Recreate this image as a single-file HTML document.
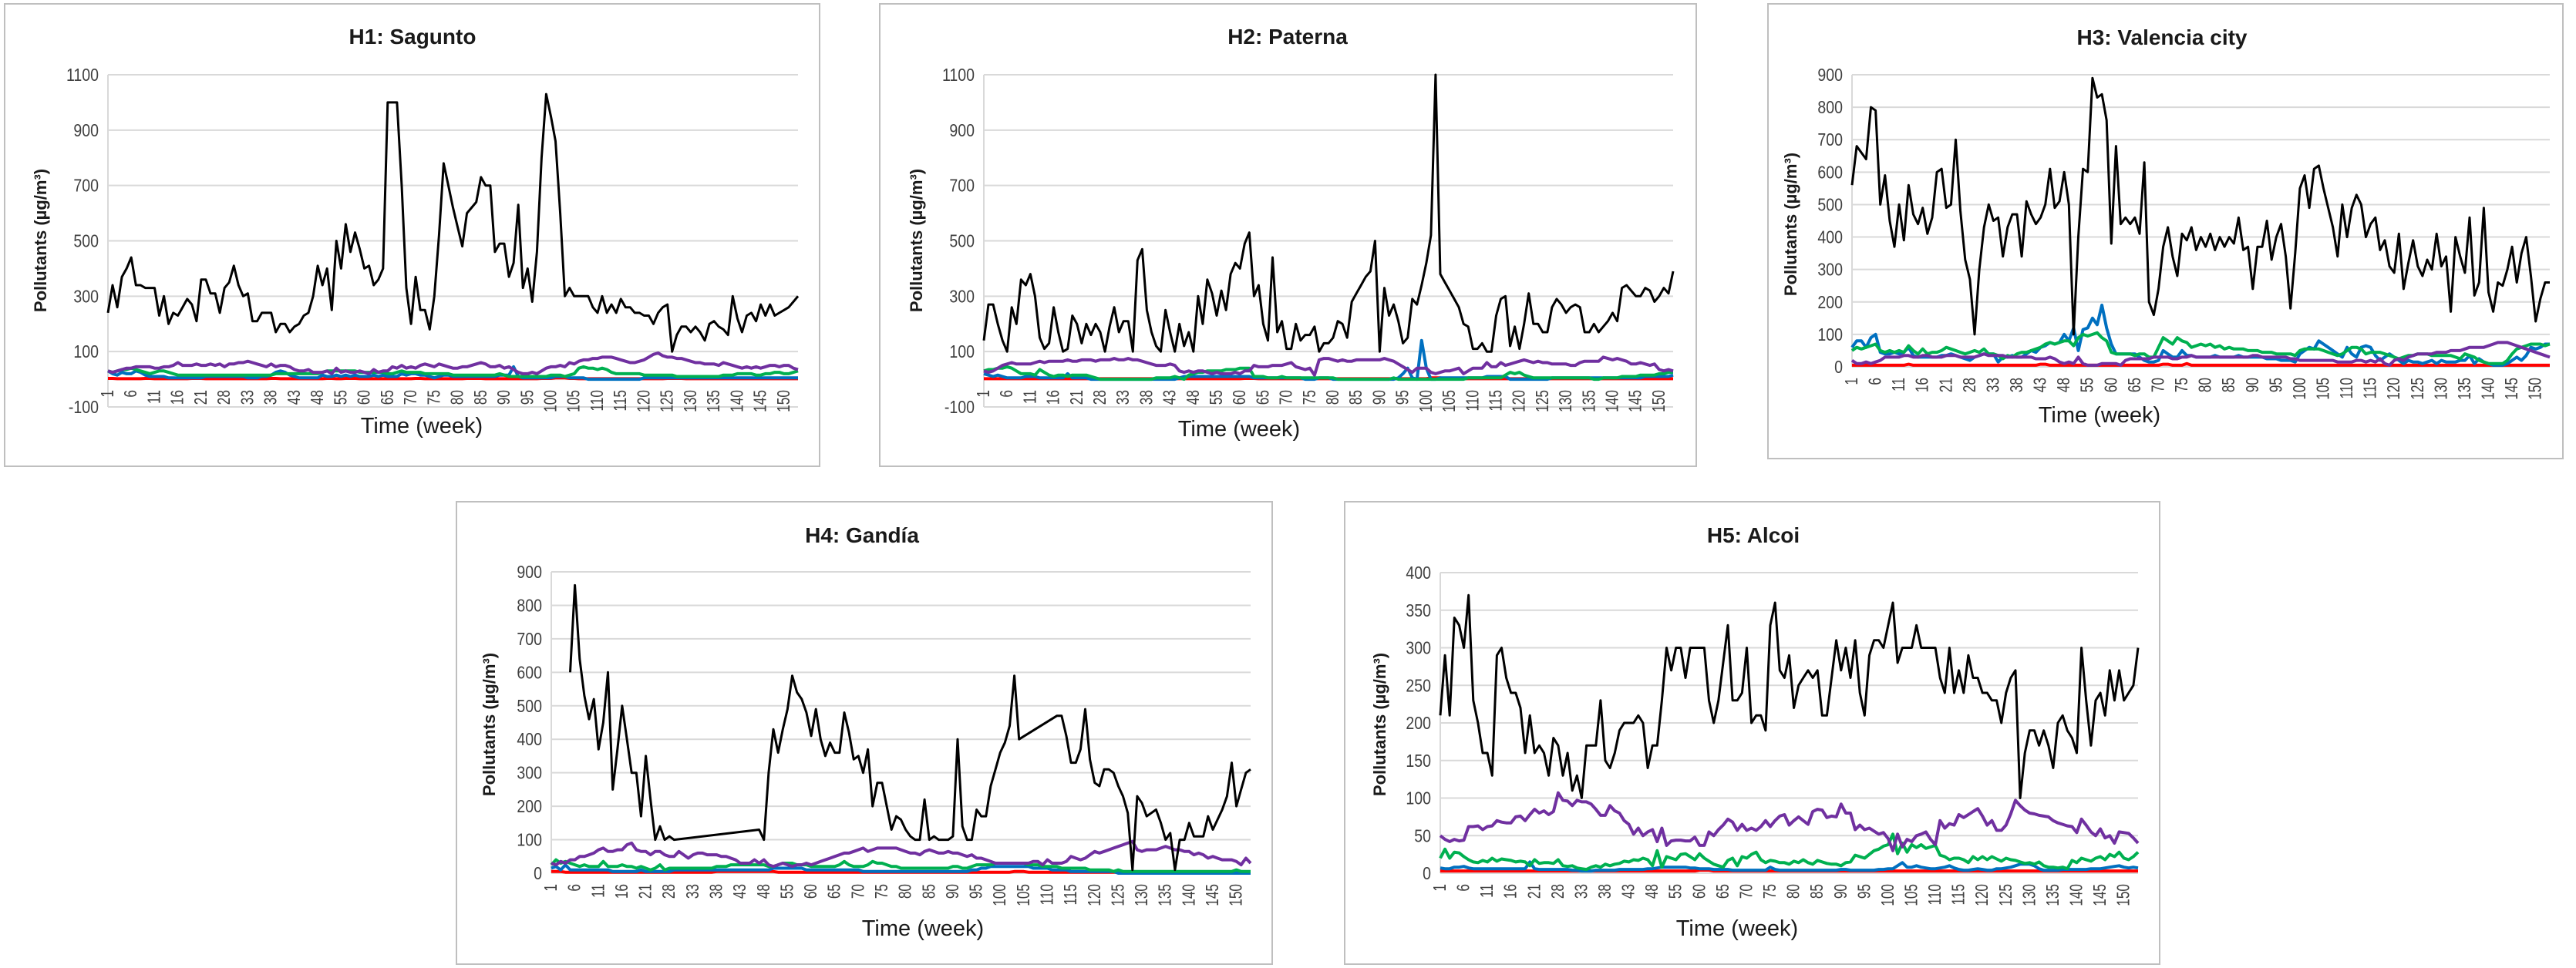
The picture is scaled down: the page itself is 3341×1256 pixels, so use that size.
<!DOCTYPE html>
<html><head><meta charset="utf-8">
<style>
html,body{margin:0;padding:0;background:#fff;}
svg{display:block;font-family:"Liberation Sans",sans-serif;}
</style></head>
<body>
<svg id="root" width="3341" height="1256" viewBox="0 0 3341 1256" xmlns="http://www.w3.org/2000/svg">
<rect x="0" y="0" width="3341" height="1256" fill="#fff"/>
</svg>
<script>
// ---- categories (week numbers) ----
const weeks = [1,2,3,4,5,6,7,8,9,10,11,12,13,14,15,16,17,18,19,20,21,24,25,26,27,28,29,30,31,32,33,34,35,36,37,38,39,40,41,42,43,44,45,46,47,48,51,52,53,54,55,56,57,58,59,60,61,62,63,64,65,66,67,68,69,70,71,72,73,74,75,76,77,78,79,80,81,82,83,84,85,86,87,88,89,90,91,92,93,94,95,96,97,98,99,100,101,102,103,104,105,106,107,108,109,110,111,112,113,114,115,116,117,118,119,120,121,122,123,124,125,126,127,128,129,130,131,132,133,134,135,136,137,138,139,140,141,142,143,144,145,146,147,148,149,150,151,152,153];
const labelEvery = 5;

// ---- H1 Sagunto ----
const h1Black = [240,340,260,370,400,440,340,340,330,330,330,230,300,200,240,230,260,290,270,210,360,360,310,310,240,330,350,410,340,300,310,210,210,240,240,240,170,200,200,170,190,200,230,240,300,410,340,400,250,500,400,560,460,530,470,400,410,340,360,400,1000,1000,1000,700,330,200,370,250,250,180,300,520,780,700,620,550,480,600,620,640,730,700,700,460,490,490,370,420,630,330,400,280,460,800,1030,950,860,600,300,330,300,300,300,300,260,240,300,240,270,240,290,260,260,240,240,230,230,200,240,260,270,100,160,190,190,170,190,170,140,200,210,190,180,160,300,220,170,230,240,210,270,230,270,230,240,250,260,280,300];
const h1Purple = [30,25,30,35,40,40,45,45,45,45,40,40,45,45,50,60,50,50,50,55,50,50,55,50,55,45,55,55,60,60,65,60,55,50,45,55,45,50,50,45,35,30,30,35,25,25,25,30,20,40,25,30,25,25,30,25,20,35,25,30,30,45,40,50,40,45,40,50,55,50,45,55,50,45,40,40,45,45,50,55,60,55,45,45,50,40,45,35,25,20,20,25,20,30,40,45,45,50,45,60,55,65,70,70,75,75,80,80,80,75,70,65,60,60,65,70,80,90,95,85,80,80,75,75,70,65,60,60,55,55,55,50,60,55,50,45,40,45,40,45,40,45,50,50,45,50,50,40,35];
const h1Green = [30,25,30,35,35,40,35,30,25,20,25,30,30,25,20,15,15,15,15,15,15,15,15,15,15,15,15,15,15,15,15,15,15,15,15,15,20,20,20,20,20,20,20,20,20,20,25,30,30,30,30,30,30,30,25,25,25,25,25,25,20,20,25,30,25,25,25,25,20,20,20,20,20,20,15,15,15,15,15,15,15,15,15,15,20,15,10,10,10,10,10,10,10,10,10,15,15,15,10,15,20,40,45,40,40,35,40,35,25,20,20,20,20,20,20,15,15,15,15,15,15,15,10,10,10,10,10,10,10,10,10,10,15,15,15,20,20,20,20,15,15,20,20,25,25,20,20,25,30];
const h1Blue = [30,20,15,25,20,20,30,25,15,10,10,10,10,5,5,5,5,5,5,5,5,10,10,10,10,10,10,10,10,10,5,5,5,10,10,15,25,30,25,15,10,5,5,5,5,5,15,10,10,15,10,15,10,15,10,10,10,15,10,15,10,10,10,20,15,20,20,15,15,10,5,10,15,15,10,10,10,10,10,10,10,10,10,10,15,15,15,45,10,5,5,5,5,5,5,5,10,10,10,5,5,5,5,0,0,0,0,0,0,0,0,0,0,0,0,5,5,5,5,5,5,5,5,5,5,5,5,5,5,5,5,5,5,5,5,5,5,5,5,5,5,5,5,5,5,5,5,5,5];
const h1Red = [3,3,2,2,2,2,2,2,3,3,2,2,2,2,2,2,2,2,3,3,3,2,2,2,2,2,2,2,2,2,2,2,2,2,2,3,3,2,2,2,2,2,2,2,2,2,2,3,3,2,2,3,3,3,2,2,2,2,2,2,2,2,2,2,2,2,3,3,2,2,2,2,2,2,2,2,2,3,3,3,3,2,2,2,2,2,2,2,2,2,2,2,2,3,3,3,5,5,5,3,3,2,2,2,2,2,2,2,2,2,2,2,2,2,2,2,2,2,2,2,3,3,3,3,2,2,2,2,2,2,2,2,2,2,2,2,2,2,2,2,2,2,2,2,2,2,2,2,2];

// ---- H2 Paterna ----
const h2Black = [140,270,270,200,140,100,260,200,360,340,380,300,150,110,130,260,170,100,110,230,200,130,200,160,200,170,100,190,260,170,210,210,100,430,470,250,170,120,100,250,170,100,200,120,170,100,300,200,360,310,230,320,250,380,420,400,490,530,300,340,200,140,440,170,210,110,110,200,140,160,160,190,100,130,130,150,210,200,150,280,310,340,370,390,500,100,330,230,270,210,130,150,290,270,340,420,520,1100,380,350,320,290,260,200,190,110,110,130,100,100,230,290,300,120,190,110,200,310,200,200,170,170,260,290,270,240,260,270,260,170,170,200,170,190,210,240,210,330,340,320,300,300,330,320,280,300,330,310,390];
const h2Purple = [30,25,30,40,50,55,60,55,55,55,55,60,65,60,65,65,65,65,70,65,65,70,70,70,65,70,70,70,75,70,70,75,70,70,65,60,55,50,50,50,55,50,30,25,30,25,30,30,25,20,25,20,20,20,25,20,30,30,50,45,45,45,50,50,50,55,60,45,40,35,40,15,70,75,75,70,65,70,65,65,70,70,70,70,70,70,75,70,65,55,45,35,25,40,40,40,25,20,25,30,30,35,40,20,30,40,40,40,60,45,45,60,50,55,60,65,70,65,60,65,60,60,55,55,55,55,50,50,60,65,65,65,65,80,75,70,75,70,65,55,55,60,55,50,55,35,30,35,30];
const h2Green = [30,35,35,40,40,45,40,30,20,20,20,15,35,25,15,10,15,15,10,15,15,15,15,10,5,0,0,0,0,0,0,0,0,0,0,0,0,5,5,5,5,10,5,0,15,20,25,25,30,30,30,30,35,35,35,40,40,40,10,10,10,5,5,5,10,5,5,5,5,5,5,5,5,5,5,5,0,0,0,0,0,0,0,0,0,0,0,0,5,0,0,0,0,0,0,0,0,0,0,0,0,0,0,0,5,5,5,5,5,5,5,5,15,25,20,25,15,10,5,5,5,5,5,5,5,5,5,5,5,5,5,0,0,5,5,5,5,10,10,10,10,15,15,15,15,20,20,25,25];
const h2Blue = [20,15,10,15,10,5,5,5,5,10,10,10,5,5,5,5,5,5,20,5,5,5,5,0,0,0,0,0,0,0,0,0,0,0,0,0,0,0,0,0,0,0,5,10,10,10,10,10,10,10,10,10,10,10,10,10,10,10,5,5,5,5,5,5,5,5,5,5,5,0,0,0,5,5,5,0,0,0,0,0,0,0,0,0,0,0,0,0,0,5,20,40,5,0,140,40,0,0,5,5,5,5,5,5,5,5,5,5,10,10,10,10,10,0,0,0,0,0,0,0,0,0,5,5,5,5,5,5,5,5,5,5,5,5,5,5,5,5,5,5,5,5,10,10,10,10,10,10,15];
const h2Red = [2,2,2,2,2,2,2,2,2,2,2,2,2,2,2,2,2,2,2,2,2,2,2,2,2,2,2,2,2,2,2,2,2,2,2,2,2,2,2,2,2,2,2,2,2,2,2,2,2,2,2,2,2,2,2,2,3,3,3,2,2,2,2,2,2,2,2,2,2,2,2,2,2,2,2,2,2,2,2,2,2,2,2,2,2,2,2,2,2,2,2,2,2,2,2,2,5,5,5,3,2,2,2,2,2,2,2,2,2,2,2,2,2,2,2,2,2,2,2,2,2,2,2,2,2,2,2,2,2,2,2,2,2,2,2,2,2,2,2,2,2,2,2,2,2,2,2,2,2];

// ---- H3 Valencia city ----
const h3Black = [560,680,660,640,800,790,500,590,450,370,500,390,560,470,440,490,410,460,600,610,490,500,700,480,330,270,100,300,430,500,450,460,340,430,470,470,340,510,470,440,460,500,610,490,510,600,500,100,400,610,600,890,830,840,760,380,680,440,460,440,460,410,630,200,160,240,370,430,340,280,410,390,430,360,400,370,410,360,400,370,400,380,460,360,370,240,370,370,450,330,400,440,340,180,350,550,590,490,610,620,550,490,430,340,500,400,490,530,500,400,440,460,360,390,310,290,410,240,320,390,310,280,330,300,410,310,340,170,400,340,290,460,220,260,490,230,170,260,250,300,370,260,350,400,280,140,210,260,260];
const h3Purple = [20,10,10,15,10,15,20,30,30,30,30,35,35,30,30,35,35,30,30,30,35,35,35,30,30,30,30,35,40,35,35,35,35,30,30,30,30,30,30,25,25,25,30,25,15,10,15,10,30,10,5,5,5,10,10,10,10,5,20,25,25,25,25,25,30,30,30,30,25,25,30,30,35,30,30,30,30,30,30,30,30,30,30,30,30,35,35,30,30,30,30,30,30,25,25,20,20,20,20,20,20,20,20,15,15,15,15,20,20,15,20,15,25,10,5,20,25,20,30,35,40,40,40,40,45,45,45,50,50,50,55,60,60,60,60,65,70,75,75,75,70,65,60,55,50,45,40,35,30];
const h3Green = [50,60,55,60,65,70,50,45,50,45,50,45,65,50,40,55,40,45,45,50,60,55,50,45,40,45,50,45,55,40,40,35,25,35,30,40,45,45,50,55,60,70,75,70,75,80,80,65,90,100,95,100,105,90,80,45,40,40,40,40,35,40,40,30,30,60,90,80,70,90,80,75,60,65,70,65,70,60,65,55,60,55,55,55,50,50,50,45,45,45,40,40,40,40,35,50,55,55,55,55,50,45,40,35,40,50,60,60,55,40,45,45,45,40,35,30,25,30,35,35,40,40,40,35,35,35,35,35,30,25,40,35,30,20,15,10,10,10,10,20,40,55,60,65,70,70,70,65,70];
const h3Blue = [60,80,80,60,90,100,45,40,40,45,40,45,60,35,30,30,30,30,30,35,35,40,35,30,25,20,30,35,40,40,40,15,30,30,35,30,30,40,50,45,60,65,75,70,75,100,80,120,50,115,120,150,130,190,120,70,40,40,40,40,40,30,20,15,15,20,50,40,30,30,50,35,35,30,30,30,30,35,30,30,30,30,35,30,30,30,30,30,25,25,25,20,20,20,15,40,50,60,55,80,70,60,50,40,30,60,40,30,60,65,60,35,20,30,40,30,20,10,20,15,15,10,15,20,10,20,15,15,15,20,20,35,10,25,15,10,5,5,5,10,20,30,20,35,60,55,60,70,70];
const h3Red = [5,5,5,5,5,5,5,5,5,5,5,5,8,5,5,5,5,5,5,5,5,5,5,5,5,5,5,5,5,5,5,5,5,5,5,5,5,5,5,5,8,8,5,5,5,5,5,5,5,5,5,5,5,5,5,5,5,5,5,5,5,5,5,5,5,5,8,8,5,5,5,10,5,5,5,5,5,5,5,5,5,5,5,5,5,5,5,5,5,5,5,5,5,5,5,5,5,5,5,5,5,5,5,5,5,5,5,5,5,5,5,5,5,5,5,5,5,5,5,5,5,5,5,5,5,5,5,5,5,5,5,5,5,5,5,5,5,5,5,5,5,5,5,5,5,5,5,5,5];

// ---- H4 Gandia (null = no measurement, line bridges gaps) ----
const h4Black = [null,null,null,null,600,860,640,530,460,520,370,450,600,250,370,500,400,300,300,170,350,220,100,140,100,110,100,null,null,null,null,null,null,null,null,null,null,null,null,null,null,null,null,null,130,100,300,430,360,430,490,590,540,520,480,410,490,400,350,390,360,360,480,420,340,350,300,370,200,270,270,200,130,170,160,130,110,100,100,220,100,110,100,100,100,110,400,140,100,100,190,170,170,260,310,360,390,440,590,400,null,null,null,null,null,null,null,470,470,410,330,330,370,490,340,270,260,310,310,300,260,230,180,10,230,210,170,180,190,150,100,120,10,100,100,150,110,110,110,170,130,160,190,230,330,200,250,300,310];
const h4Purple = [30,25,35,30,40,40,50,50,55,60,70,75,65,65,70,70,85,90,70,65,65,55,65,65,55,50,50,65,55,45,55,60,60,55,55,55,50,50,45,40,30,30,30,40,30,40,25,20,25,30,25,20,25,25,30,25,30,35,40,45,50,55,60,60,65,70,75,65,70,75,75,75,75,75,70,65,60,60,55,65,70,65,60,60,65,60,60,55,50,55,45,45,40,35,30,30,30,30,30,30,30,30,35,35,25,40,30,30,30,35,50,45,40,45,55,65,60,65,70,75,80,85,90,95,70,65,70,70,70,75,80,75,70,70,65,65,55,60,55,45,50,45,40,40,40,35,25,45,30];
const h4Green = [25,40,30,35,30,25,20,25,20,20,20,35,20,20,20,25,20,20,15,20,15,10,15,25,10,15,15,15,15,15,15,15,15,15,15,20,20,20,25,25,25,25,25,25,25,25,20,20,25,30,30,30,25,25,25,20,20,20,20,20,20,25,35,25,20,20,20,25,35,30,30,25,20,20,15,15,15,15,15,15,15,15,15,15,15,20,20,15,15,20,25,25,25,25,30,30,30,30,30,30,30,25,25,25,20,20,20,20,15,15,15,15,15,15,10,10,10,10,10,5,10,5,5,5,5,5,5,5,5,5,5,5,5,5,5,5,5,5,5,5,5,5,5,5,5,10,5,5,5];
const h4Blue = [15,20,10,25,10,10,10,10,10,10,10,10,10,5,5,5,5,5,5,10,5,5,5,5,5,5,10,10,10,10,10,10,10,10,10,10,10,10,10,10,10,10,10,10,10,10,10,15,15,15,15,15,15,15,10,10,10,10,10,10,10,10,10,10,10,10,5,5,5,5,5,5,5,5,5,5,5,5,5,5,5,5,5,5,5,5,5,5,5,10,10,15,15,20,20,20,20,20,20,20,20,20,15,15,15,15,10,10,10,10,5,5,5,5,5,5,5,5,5,5,0,0,0,0,0,0,0,0,0,0,0,0,0,0,0,0,0,0,0,0,0,0,0,0,0,0,0,0,0];
const h4Red = [5,5,5,3,3,3,3,3,3,3,3,3,3,3,3,3,3,3,3,3,3,3,3,3,3,3,3,3,3,3,3,3,3,3,3,5,5,5,5,5,5,5,5,5,5,5,5,5,3,3,3,3,3,3,3,3,3,3,3,3,3,3,3,3,3,3,3,3,3,3,3,3,3,3,3,3,3,3,3,3,3,3,3,3,3,3,3,3,3,3,3,3,3,3,3,3,3,3,5,5,5,3,3,3,3,3,3,3,3,3,3,3,3,3,3,3,3,3,3,3,3,3,3,3,3,3,3,3,3,3,3,3,3,3,3,3,3,3,3,3,3,3,3,3,3,3,3,0,0];

// ---- H5 Alcoi ----
const h5Black = [210,290,210,340,330,300,370,230,200,160,160,130,290,300,260,240,240,220,160,210,160,170,160,130,180,170,130,160,110,130,100,170,170,170,230,150,140,160,190,200,200,200,210,200,140,170,170,230,300,270,300,300,260,300,300,300,300,230,200,230,280,330,230,230,240,300,200,210,210,190,330,360,270,260,290,220,250,260,270,260,270,210,210,260,310,270,300,260,310,240,210,290,310,310,300,330,360,280,300,300,300,330,300,300,300,300,260,240,300,240,270,240,290,260,260,240,240,230,230,200,240,260,270,100,160,190,190,170,190,170,140,200,210,190,180,160,300,230,170,230,240,210,270,230,270,230,240,250,300];
const h5Purple = [50,45,42,45,43,44,62,62,63,58,62,63,70,68,67,67,75,76,70,78,85,80,83,78,82,107,97,96,90,97,95,95,92,85,77,77,90,83,80,70,65,52,60,50,55,58,42,60,37,43,44,44,43,43,48,37,37,55,50,58,64,72,68,57,65,57,60,57,62,70,62,70,76,78,64,70,75,70,65,82,85,84,74,76,75,92,80,80,58,64,58,60,56,52,54,46,30,52,35,45,42,50,52,55,45,38,70,60,66,64,78,74,78,82,86,76,64,70,57,57,64,79,97,90,84,80,79,77,76,75,70,67,65,63,62,54,72,64,55,50,59,47,50,40,55,54,53,47,40];
const h5Green = [20,32,20,28,27,22,18,15,14,17,15,20,16,19,18,17,15,16,15,10,18,13,14,14,13,18,10,9,10,7,6,5,8,10,8,12,10,12,13,16,15,18,17,20,18,10,30,8,22,20,18,25,26,22,18,26,20,16,12,10,8,17,20,10,22,20,25,28,18,14,17,16,14,14,12,16,14,18,14,12,17,15,13,12,12,10,14,15,24,22,20,25,30,32,36,38,52,26,40,28,38,34,38,33,35,37,24,22,18,20,20,18,14,22,18,22,18,22,19,16,20,18,17,15,13,14,12,15,10,8,8,7,8,6,17,14,20,18,16,20,22,18,25,22,28,20,18,22,28];
const h5Blue = [7,6,6,8,8,9,7,6,6,6,6,6,6,6,6,6,6,6,6,15,6,5,5,5,5,5,5,5,4,4,3,3,3,4,4,4,4,4,5,5,5,5,5,5,6,6,7,8,8,8,8,8,8,7,7,6,6,6,5,5,5,5,4,4,4,4,4,4,4,4,8,5,4,4,4,4,4,4,4,4,4,4,4,4,4,5,5,4,4,4,4,4,4,5,5,6,6,10,14,8,8,10,8,7,6,6,7,8,10,7,5,4,4,5,6,5,4,4,6,6,7,8,10,12,12,12,10,6,4,4,4,4,5,5,5,5,5,5,6,6,6,7,8,9,10,8,7,8,7];
const h5Red = [3,3,3,3,3,3,3,3,3,3,3,3,3,3,3,3,3,3,3,3,3,3,3,3,3,3,3,3,3,3,3,3,3,3,3,3,3,3,3,3,3,3,3,3,3,3,3,3,3,3,3,3,3,3,3,4,4,4,3,3,3,3,3,3,3,3,3,3,3,3,3,3,3,3,3,3,3,3,3,3,3,3,3,3,3,3,3,3,3,3,3,3,3,3,3,3,3,3,3,3,3,3,3,3,3,3,3,3,3,3,3,3,3,3,3,3,3,3,3,3,3,3,3,3,3,3,3,3,3,3,3,3,3,3,3,3,3,3,3,3,3,3,3,3,3,3,3,3,3];

// ---- y tick labels ----
const ticksH12 = [-100,100,300,500,700,900,1100];
const ticksH34 = [0,100,200,300,400,500,600,700,800,900];
const ticksH5 = [0,50,100,150,200,250,300,350,400];

const NS = "http://www.w3.org/2000/svg";
const root = document.getElementById('root');
function mk(tag, attrs, parent){
  const e = document.createElementNS(NS, tag);
  for (const k in attrs) e.setAttribute(k, attrs[k]);
  (parent||root).appendChild(e);
  return e;
}

function drawPanel(cfg){
  const g = mk('g', {});
  
  
  const b = cfg.box;
  const frame = mk('rect', {x:b[0], y:b[1], width:b[2]-b[0], height:b[3]-b[1], fill:'#fff', stroke:'#bfbfbf', 'stroke-width':2}, g);
  
  

  const ticks = cfg.ticks;
  const yMin = ticks[0], yMax = ticks[ticks.length-1];
  const ys = v => cfg.yBot - (v - yMin) / (yMax - yMin) * (cfg.yBot - cfg.yTop);
  const n = weeks.length;
  const xs = i => cfg.x0 + i * (cfg.x1 - cfg.x0) / (n - 1);

  ticks.forEach(t => {
    const gl = mk('line', {x1:cfg.x0, x2:cfg.x1, y1:ys(t), y2:ys(t), stroke:'#d9d9d9', 'stroke-width':2}, g);
    
    
    const tx = cfg.x0 - 12, ty = ys(t) + 8;
    const tl = mk('text', {x:0, y:0, transform:'translate('+tx+' '+ty+') scale(0.85 1)', 'text-anchor':'end', 'font-size':23, fill:'#404040'}, g);
    tl.textContent = String(t);
    
    
  });
  const ax = mk('line', {x1:cfg.x0, x2:cfg.x0, y1:cfg.yTop, y2:cfg.yBot, stroke:'#d9d9d9', 'stroke-width':2}, g);
  
  
  const y0 = ys(0);
  const xa = mk('line', {x1:cfg.x0, x2:cfg.x1, y1:y0, y2:y0, stroke:'#d9d9d9', 'stroke-width':2}, g);
  
  

  for (let i = 0; i < n; i += labelEvery){
    const x = xs(i) + 7, y = y0 + 14;
    const tl = mk('text', {x:0, y:0, transform:'translate('+x+' '+y+') rotate(-90) scale(0.75 1)', 'text-anchor':'end', 'font-size':23, fill:'#404040'}, g);
    tl.textContent = String(weeks[i]);
    
    
  }

  cfg.series.forEach(s => {
    let d = '', started = false;
    const m = Math.min(s.values.length, n);
    for (let i = 0; i < m; i++){
      const v = s.values[i];
      if (v === null || v === undefined) continue;
      d += (started ? 'L' : 'M') + xs(i).toFixed(1) + ' ' + ys(v).toFixed(1);
      started = true;
    }
    const p = mk('path', {d:d, fill:'none', stroke:s.color, 'stroke-width':s.w, 'stroke-linejoin':'round'}, g);
    
    
  });

  const tt = mk('text', {x:cfg.title[1], y:cfg.title[2], 'text-anchor':'middle', 'font-size':28, 'font-weight':'bold', fill:'#1a1a1a'}, g);
  tt.textContent = cfg.title[0];
  
  

  const xt = mk('text', {x:cfg.xTitle[0], y:cfg.xTitle[1], 'text-anchor':'middle', 'font-size':29, fill:'#1a1a1a'}, g);
  xt.textContent = 'Time (week)';
  
  

  const yx = cfg.yTitle[0], yy = cfg.yTitle[1];
  const yt = mk('text', {x:yx, y:yy, transform:'rotate(-90 '+yx+' '+yy+')', 'text-anchor':'middle', 'font-size':22, 'font-weight':'bold', fill:'#1a1a1a'}, g);
  yt.textContent = 'Pollutants  (\u00b5g/m\u00b3)';
  
  
}

function ser(black, purple, green, blue, red){
  return [
    {name:'red', values:red, color:'#ff0000', w:4},
    {name:'blue', values:blue, color:'#0070c0', w:4},
    {name:'green', values:green, color:'#00b050', w:4},
    {name:'purple', values:purple, color:'#7030a0', w:4},
    {name:'black', values:black, color:'#000000', w:3}
  ];
}

drawPanel({id:'h1', box:[6,5,1063,605], x0:140, x1:1035, yTop:97, yBot:528, ticks:ticksH12,
  title:['H1: Sagunto',535,57], xTitle:[547,562], yTitle:[60,312], series:ser(h1Black,h1Purple,h1Green,h1Blue,h1Red)});
drawPanel({id:'h2', box:[1141,5,2200,605], x0:1276, x1:2170, yTop:97, yBot:528, ticks:ticksH12,
  title:['H2: Paterna',1670,57], xTitle:[1607,566], yTitle:[1196,312], series:ser(h2Black,h2Purple,h2Green,h2Blue,h2Red)});
drawPanel({id:'h3', box:[2293,5,3324,595], x0:2402, x1:3307, yTop:97, yBot:476, ticks:ticksH34,
  title:['H3: Valencia city',2804,58], xTitle:[2723,548], yTitle:[2330,291], series:ser(h3Black,h3Purple,h3Green,h3Blue,h3Red)});
drawPanel({id:'h4', box:[592,651,1650,1251], x0:715, x1:1622, yTop:742, yBot:1133, ticks:ticksH34,
  title:['H4: Gand\u00eda',1118,704], xTitle:[1197,1214], yTitle:[642,940], series:ser(h4Black,h4Purple,h4Green,h4Blue,h4Red)});
drawPanel({id:'h5', box:[1744,651,2801,1251], x0:1868, x1:2773, yTop:743, yBot:1133, ticks:ticksH5,
  title:['H5: Alcoi',2274,704], xTitle:[2253,1214], yTitle:[1797,940], series:ser(h5Black,h5Purple,h5Green,h5Blue,h5Red)});
</script>
</body></html>
